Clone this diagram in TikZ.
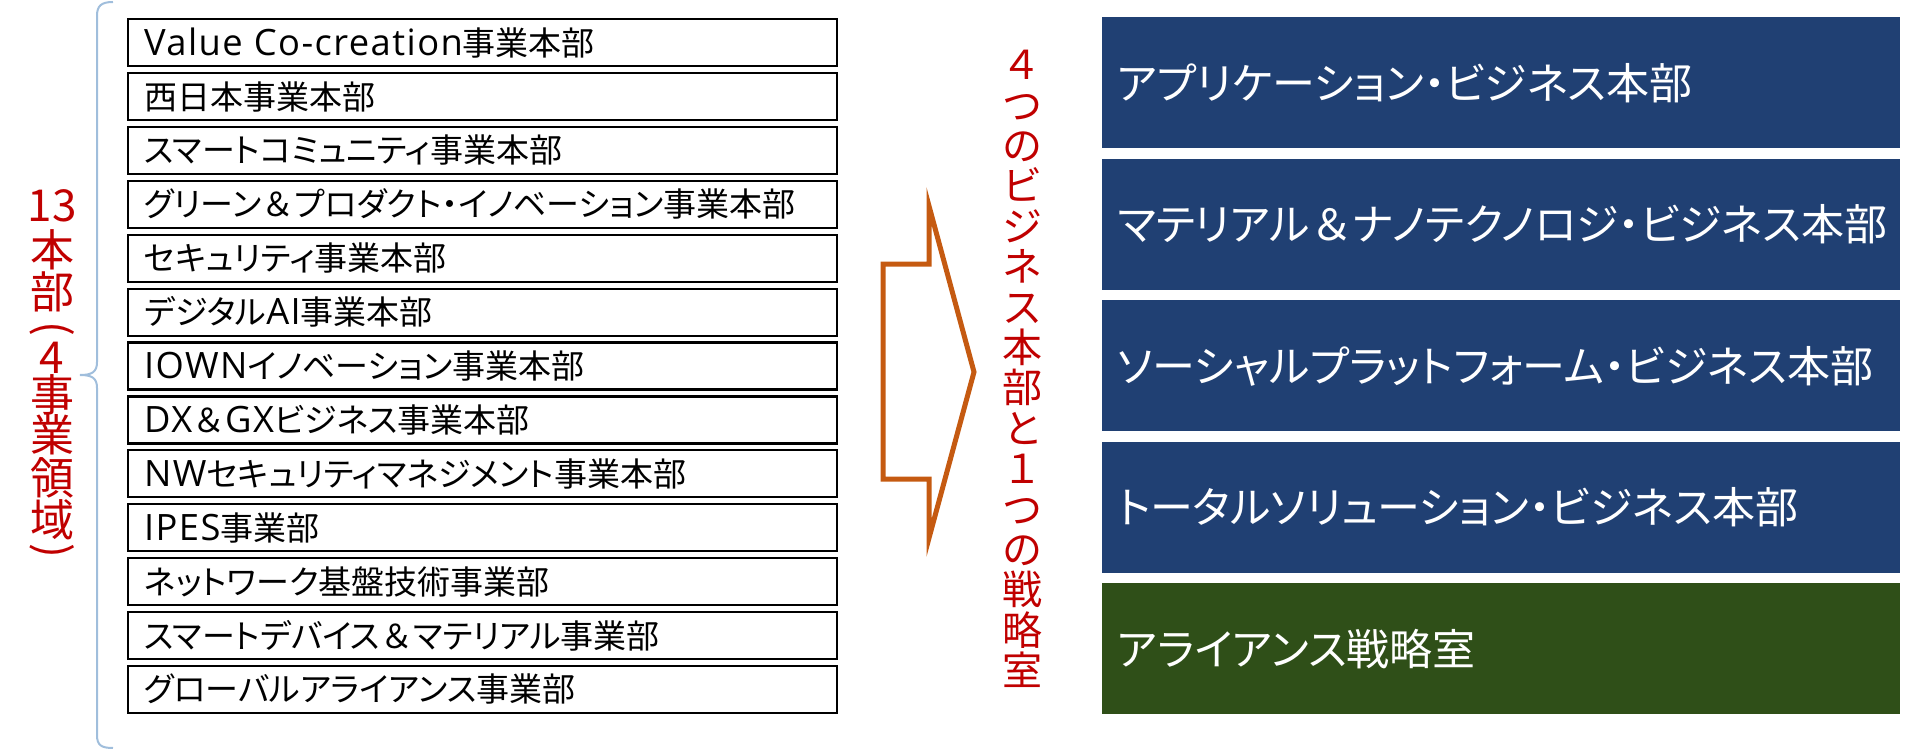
\documentclass[tikz,border=0pt]{standalone}
\usepackage{fontspec}
\usepackage{graphicx}
\setmainfont{Noto Sans CJK JP}[RawFeature=+palt]
\newfontfamily\zenkaku{Noto Sans CJK JP}
\newfontfamily\lat{Open Sans}[Scale=1.1, LetterSpace=4]
\newcommand{\zamp}{{\zenkaku ＆}}
\definecolor{bumon}{RGB}{32,64,115}
\definecolor{senryaku}{RGB}{47,79,24}
\definecolor{daidai}{RGB}{197,90,17}
\definecolor{akairo}{RGB}{192,0,0}
\definecolor{kakkoiro}{RGB}{160,190,220}
\begin{document}
\begin{tikzpicture}[x=0.5pt, y=-0.5pt, line join=miter, font=\fontsize{16.5}{18}\selectfont]
    \def\bx{127} \def\rx{1102}
    \tikzset{kyu/.style={draw, line width=1.1pt, anchor=north west, minimum height=23.5pt, text width=338.5pt, inner xsep=8pt, inner ysep=0pt, align=left},
             shin/.style={text=white, anchor=north west, minimum height=65.5pt, text width=384pt, inner xsep=7.5pt, inner ysep=0pt, align=left, font=\fontsize{21.5}{23}\selectfont},
             midashi/.style={text=akairo, inner sep=0pt, font=\fontsize{22}{24}\selectfont},
             yajirushi/.style={draw=daidai, line width=2.5pt}}
    \useasboundingbox (0,0) rectangle (1910,749);
    \draw[kakkoiro, line width=1pt] (113,2) .. controls (101,2) and (97,6) .. (97,16) -- (97,362) .. controls (97,372) and (92,375) .. (80,375) .. controls (92,375) and (97,378) .. (97,388) -- (97,735) .. controls (97,745) and (101,748) .. (113,748);
    \foreach \ch/\yy [count=\k] in {13/206, 本/250, 部/292, 4/358, 事/395, 業/435, 領/478, 域/520}
        \node[midashi] (tate\k) at (52,\yy) {\ch};
    \node[midashi] (kakko1) at (52,329) {\rotatebox{-90}{(}};
    \node[midashi] (kakko2) at (52,551) {\rotatebox{-90}{)}};
    \foreach \t [count=\i from 0] in {{\lat Value Co-creation}事業本部, 西日本事業本部, スマートコミュニティ事業本部, グリーン\zamp プロダクト・イノベーション事業本部, セキュリティ事業本部, デジタル{\lat AI}事業本部, {\lat IOWN}イノベーション事業本部, {\lat DX}\zamp{\lat GX}ビジネス事業本部, {\lat NW}セキュリティマネジメント事業本部, {\lat IPES}事業部, ネットワーク基盤技術事業部, スマートデバイス\zamp マテリアル事業部, グローバルアライアンス事業部}
        \node[kyu] (kyu\i) at (\bx,{18+53.9*\i}) {\t};
    \draw[yajirushi] (883,264) -- (929,264) -- (929,206) -- (974,372) -- (929,538) -- (929,479) -- (883,479) -- cycle;
    \node[midashi, align=center, font=\fontsize{20}{20.2}\selectfont] (matome) at (1022,369) {４\\つ\\の\\ビ\\ジ\\ネ\\ス\\本\\部\\と\\１\\つ\\の\\戦\\略\\室};
    \foreach \t/\c [count=\i from 0] in {アプリケーション・ビジネス本部/bumon, マテリアル\zamp ナノテクノロジ・ビジネス本部/bumon, ソーシャルプラットフォーム・ビジネス本部/bumon, トータルソリューション・ビジネス本部/bumon, アライアンス戦略室/senryaku}
        \node[shin, fill=\c] (shin\i) at (\rx,{17+141.5*\i}) {\t};
\end{tikzpicture}
\end{document}
